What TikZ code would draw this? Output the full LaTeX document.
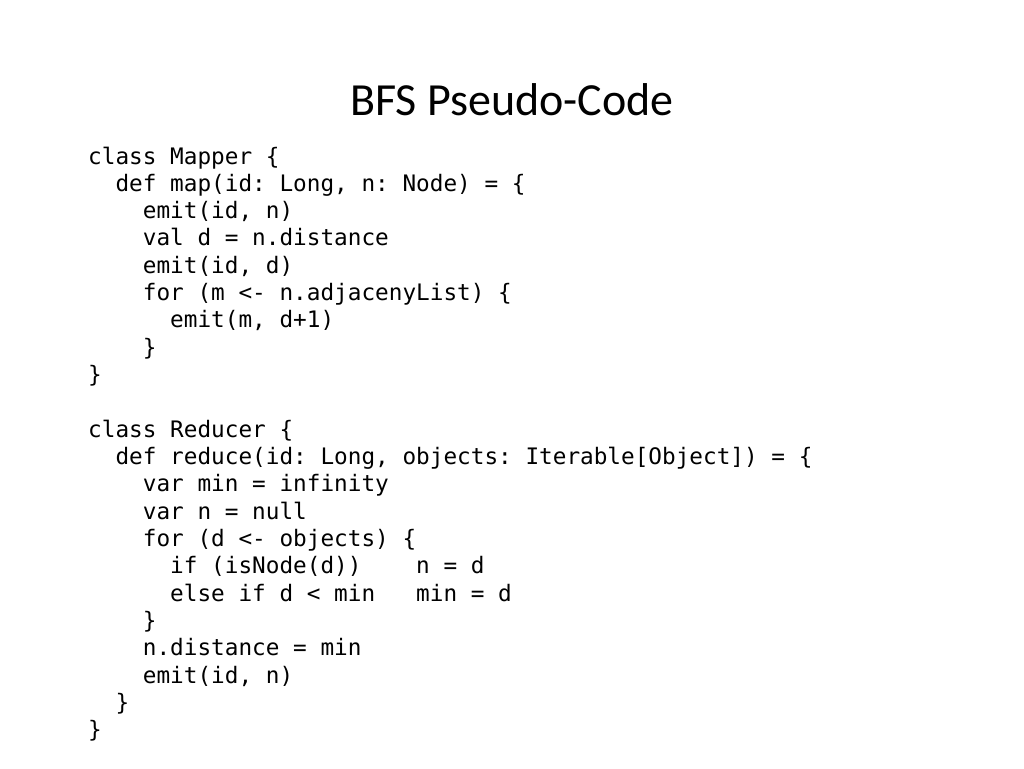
\documentclass[tikz,border=0pt]{standalone}
\usepackage{fontspec}
\setmainfont{Carlito}
\setmonofont{DejaVu Sans Mono}
\usetikzlibrary{positioning}
\begin{document}
\begin{tikzpicture}[x=1pt,y=-1pt,
    codeline/.style={anchor=base west,inner sep=0pt,font=\ttfamily\fontsize{22.7}{27}\selectfont}]
\useasboundingbox (0,0) rectangle (1024,768);
\node[font=\fontsize{46}{50}\selectfont,anchor=base] (title) at (512,115) {BFS Pseudo-Code};
\foreach \i/\c/\t in {
  0/0/{class Mapper \{},
  1/2/{def map(id: Long, n: Node) = \{},
  2/4/{emit(id, n)},
  3/4/{val d = n.distance},
  4/4/{emit(id, d)},
  5/4/{for (m <- n.adjacenyList) \{},
  6/6/{emit(m, d+1)},
  7/4/{\}},
  8/0/{\}},
  10/0/{class Reducer \{},
  11/2/{def reduce(id: Long, objects: Iterable[Object]) = \{},
  12/4/{var min = infinity},
  13/4/{var n = null},
  14/4/{for (d <- objects) \{},
  15/6/{if (isNode(d))\hphantom{xxxx}n = d},
  16/6/{else if d < min\hphantom{xxx}min = d},
  17/4/{\}},
  18/4/{n.distance = min},
  19/4/{emit(id, n)},
  20/2/{\}},
  21/0/{\}}}
  \node[codeline] (line\i) at (88+13.67*\c,164+27.33*\i) {\t};
\end{tikzpicture}
\end{document}
